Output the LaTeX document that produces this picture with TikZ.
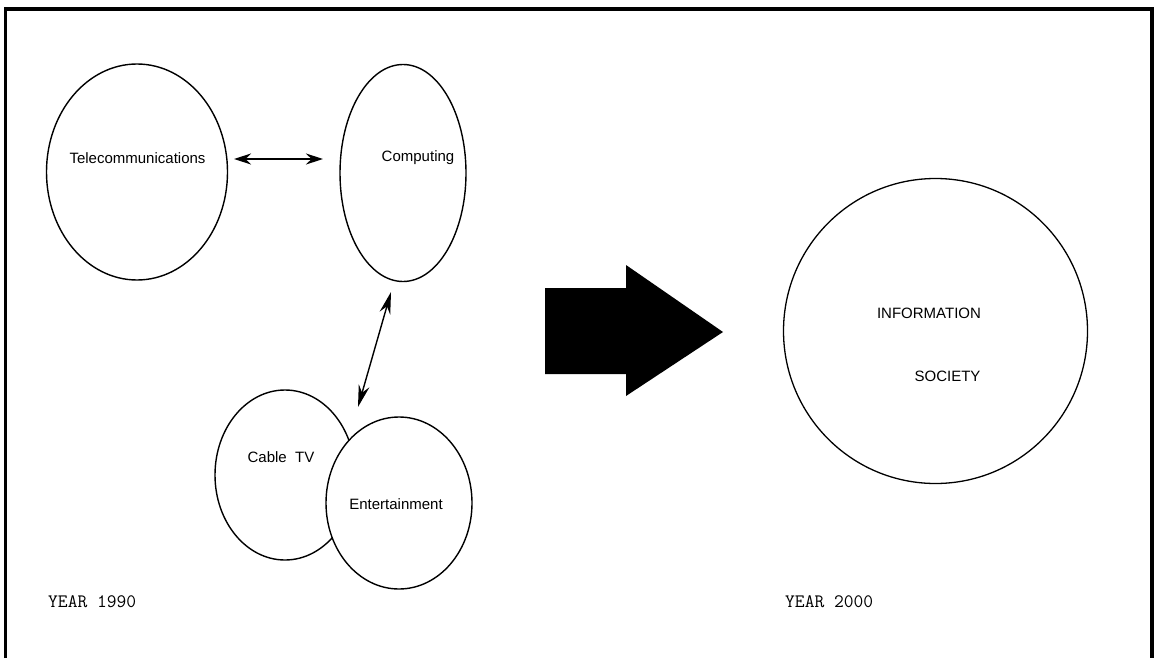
\documentclass[tikz,border=0pt]{standalone}
\usepackage{fontspec}
\setmainfont{Liberation Sans}
\usetikzlibrary{shapes.geometric,arrows.meta}
\begin{document}
\begin{tikzpicture}[x=1pt,y=-1pt,
  field/.style={draw,ellipse,line width=1.4pt,inner sep=0pt},
  lbl/.style={font=\fontsize{15}{18}\selectfont,inner sep=0pt},
  yr/.style={font=\ttfamily\fontsize{19}{22}\selectfont,inner sep=0pt,anchor=west},
  link/.style={line width=1.4pt,{Stealth[length=17pt,width=11pt]}-{Stealth[length=17pt,width=11pt]}},
  longlink/.style={line width=1.4pt,{Stealth[length=22pt,width=11pt]}-{Stealth[length=22pt,width=11pt]}},
  bigarrow/.style={fill=black,draw=none}]
\useasboundingbox (0,0) rectangle (1155,658);
% open frame
\draw[line width=3.5pt] (5.5,658) -- (5.5,9) -- (1152,9) -- (1152,658);

% fields of 1990
\node[field,minimum width=181pt,minimum height=216pt] (tel) at (137,172) {};
\node[field,minimum width=126pt,minimum height=217pt] (comp) at (403,173) {};
\node[field,minimum width=140pt,minimum height=170pt] (cab) at (285,475) {};
\node[field,fill=white,minimum width=146pt,minimum height=172pt] (ent) at (399,503) {};

\node[lbl] (tel-t) at (137.5,158) {Telecommunications};
\node[lbl] (comp-t) at (418,158) {Computing};
\node[lbl] (cab-t) at (281,457) {Cable\ \ TV};
\node[lbl] (ent-t) at (396,504) {Entertainment};

% links between the fields
\coordinate (tc1) at (234,159);
\coordinate (tc2) at (323,159);
\coordinate (ce1) at (391,292);
\coordinate (ce2) at (358,407);
\draw[link] (tc1) -- (tc2);
\draw[longlink] (ce1) -- (ce2);

% transition arrow
\fill[bigarrow] (545,288) -- (626,288) -- (626,265) -- (723,332) -- (626,396) -- (626,374) -- (545,374) -- cycle;

% 2000
\node[field,line width=1.3pt,minimum width=304pt,minimum height=305pt] (info) at (935.5,331) {};
\node[lbl] (info-t1) at (929,313) {INFORMATION};
\node[lbl] (info-t2) at (947.5,376) {SOCIETY};

\node[yr] (y1) at (48,602) {YEAR 1990};
\node[yr] (y2) at (785,602) {YEAR 2000};
\end{tikzpicture}
\end{document}
